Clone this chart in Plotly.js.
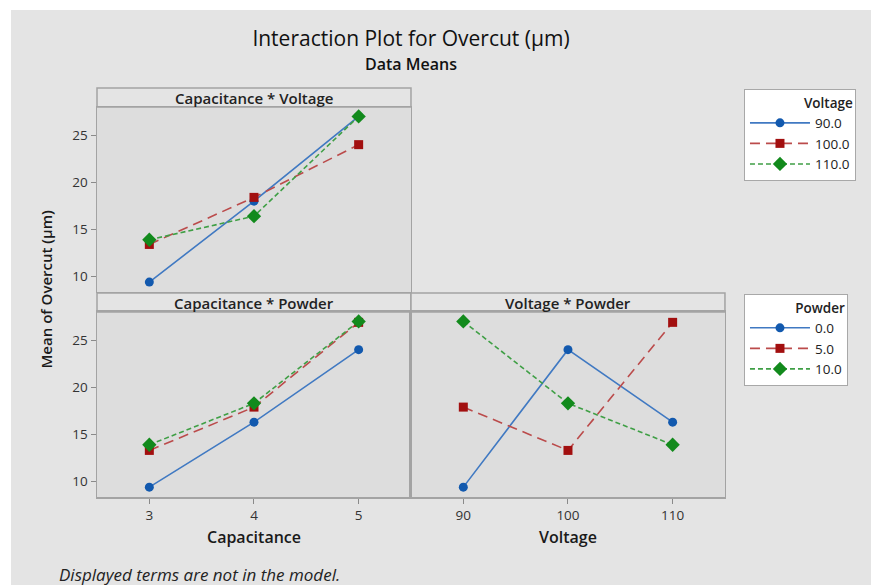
<!DOCTYPE html>
<html>
<head>
<meta charset="utf-8">
<script src="https://cdn.plot.ly/plotly-3.0.1.min.js"></script>
<style>
  html, body { margin: 0; padding: 0; background: #ffffff; width: 871px; height: 585px; overflow: hidden; }
  #chart { position: absolute; left: 11px; top: 10px; width: 860px; height: 575px; }
</style>
</head>
<body>
<div id="chart"></div>
<script>
// Factor levels
const capacitance = [3, 4, 5];
const voltage = [90, 100, 110];
const voltageLabels = ['90.0', '100.0', '110.0'];
const powderLabels = ['0.0', '5.0', '10.0'];

// Mean overcut (µm): Capacitance × Voltage
const capV90  = [9.4, 18.0, 27.0];
const capV100 = [13.4, 18.4, 24.0];
const capV110 = [13.9, 16.4, 27.0];

// Mean overcut (µm): Capacitance × Powder
const capP0  = [9.4, 16.3, 24.0];
const capP5  = [13.3, 17.9, 26.9];
const capP10 = [13.9, 18.3, 27.0];

// Mean overcut (µm): Voltage × Powder
const volP0  = [9.4, 24.0, 16.3];
const volP5  = [17.9, 13.3, 26.9];
const volP10 = [27.0, 18.3, 13.9];

// One style per level of the traced factor
const levelStyle = [
  { marker: '#1259ae', line: '#4079c2', symbol: 'circle', size: 9, dash: 'solid' },
  { marker: '#a20f0f', line: '#bb4b4b', symbol: 'square', size: 9, dash: '10px,6px' },
  { marker: '#128a1c', line: '#3f9f45', symbol: 'diamond', size: 11, dash: '5px,3px' }
];

function series(x, y, level, name, xa, ya, legend, showlegend) {
  const s = levelStyle[level];
  return {
    type: 'scatter', mode: 'lines+markers',
    x: x, y: y, name: name,
    xaxis: xa, yaxis: ya,
    legend: legend, showlegend: showlegend,
    line: { color: s.line, width: 1.6, dash: s.dash },
    marker: { color: s.marker, symbol: s.symbol, size: s.size },
    hoverinfo: 'x+y+name'
  };
}

const data = [
  series(capacitance, capV90, 0, voltageLabels[0], 'x', 'y', 'legend', true),
  series(capacitance, capV100, 1, voltageLabels[1], 'x', 'y', 'legend', true),
  series(capacitance, capV110, 2, voltageLabels[2], 'x', 'y', 'legend', true),
  series(capacitance, capP0, 0, powderLabels[0], 'x2', 'y2', 'legend2', true),
  series(capacitance, capP5, 1, powderLabels[1], 'x2', 'y2', 'legend2', true),
  series(capacitance, capP10, 2, powderLabels[2], 'x2', 'y2', 'legend2', true),
  series(voltage, volP0, 0, powderLabels[0], 'x3', 'y3', 'legend2', false),
  series(voltage, volP5, 1, powderLabels[1], 'x3', 'y3', 'legend2', false),
  series(voltage, volP10, 2, powderLabels[2], 'x3', 'y3', 'legend2', false)
];

const FONT = '"Open Sans", "Noto Sans", sans-serif';
const FRAME = '#a3a3a3';
const PANEL = '#dddddd';
const yRange = [8.35, 28.0];
const yTicks = [10, 15, 20, 25];

const baseAxis = {
  showgrid: false, zeroline: false,
  showline: true, mirror: true, linecolor: FRAME, linewidth: 1.5,
  ticks: 'outside', ticklen: 5, tickwidth: 1, tickcolor: '#8a8a8a',
  tickfont: { family: FONT, size: 13.5, color: '#333333' },
  fixedrange: true
};

const colLeft = [0.1000, 0.4651];
const colRight = [0.4651, 0.8302];
const rowTop = [0.5096, 0.8313];
const rowBottom = [0.1530, 0.4748];

const titleFont = { family: FONT, size: 16, weight: 600, color: '#1a1a1a' };
const stripFont = { family: FONT, size: 15, weight: 600, color: '#222222' };

const layout = {
  width: 860, height: 575,
  margin: { l: 0, r: 0, t: 0, b: 0 },
  paper_bgcolor: '#e4e4e4',
  plot_bgcolor: PANEL,
  font: { family: FONT, color: '#222222' },
  title: {
    text: 'Interaction Plot for Overcut (µm)',
    x: 0.4651, xanchor: 'center',
    y: 0.9496, yanchor: 'middle',
    font: { family: FONT, size: 21, color: '#111111' }
  },
  xaxis: Object.assign({}, baseAxis, { domain: colLeft, range: [2.5, 5.5], anchor: 'y',
    tickvals: capacitance, showticklabels: false, ticks: '' }),
  yaxis: Object.assign({}, baseAxis, { domain: rowTop, range: yRange, anchor: 'x', tickvals: yTicks }),
  xaxis2: Object.assign({}, baseAxis, { domain: colLeft, range: [2.5, 5.5], anchor: 'y2',
    tickvals: capacitance,
    title: { text: 'Capacitance', standoff: 9, font: titleFont } }),
  yaxis2: Object.assign({}, baseAxis, { domain: rowBottom, range: yRange, anchor: 'x2', tickvals: yTicks }),
  xaxis3: Object.assign({}, baseAxis, { domain: colRight, range: [85, 115], anchor: 'y3',
    tickvals: voltage,
    title: { text: 'Voltage', standoff: 9, font: titleFont } }),
  yaxis3: Object.assign({}, baseAxis, { domain: rowBottom, range: yRange, anchor: 'x3',
    tickvals: yTicks, showticklabels: false, ticks: '' }),
  legend: {
    x: 0.8523, y: 0.8626, xanchor: 'left', yanchor: 'top',
    bgcolor: '#ffffff', bordercolor: '#a8a8a8', borderwidth: 1,
    itemwidth: 60, tracegroupgap: 0,
    font: { family: FONT, size: 13.5, color: '#222222' },
    title: { text: 'Voltage', side: 'top right', font: { family: FONT, size: 13.5, weight: 600, color: '#222222' } }
  },
  legend2: {
    x: 0.8523, y: 0.5061, xanchor: 'left', yanchor: 'top',
    bgcolor: '#ffffff', bordercolor: '#a8a8a8', borderwidth: 1,
    itemwidth: 60, tracegroupgap: 0,
    font: { family: FONT, size: 13.5, color: '#222222' },
    title: { text: 'Powder', side: 'top right', font: { family: FONT, size: 13.5, weight: 600, color: '#222222' } }
  },
  shapes: [
    // panel header strips
    { type: 'rect', xref: 'paper', yref: 'paper', x0: colLeft[0], x1: colLeft[1], y0: 0.8313, y1: 0.8643,
      fillcolor: '#e4e4e4', line: { color: FRAME, width: 1.5 }, layer: 'below' },
    { type: 'rect', xref: 'paper', yref: 'paper', x0: colLeft[0], x1: colLeft[1], y0: 0.4748, y1: 0.5078,
      fillcolor: '#e4e4e4', line: { color: FRAME, width: 1.5 }, layer: 'below' },
    { type: 'rect', xref: 'paper', yref: 'paper', x0: colRight[0], x1: colRight[1], y0: 0.4748, y1: 0.5078,
      fillcolor: '#e4e4e4', line: { color: FRAME, width: 1.5 }, layer: 'below' }
  ],
  annotations: [
    { text: 'Data Means', xref: 'paper', yref: 'paper', x: 0.4651, y: 0.9061,
      xanchor: 'center', yanchor: 'middle', showarrow: false,
      font: { family: FONT, size: 16, weight: 600, color: '#111111' } },
    { text: 'Capacitance * Voltage', xref: 'paper', yref: 'paper', x: 0.2826, y: 0.8478,
      xanchor: 'center', yanchor: 'middle', showarrow: false, font: stripFont },
    { text: 'Capacitance * Powder', xref: 'paper', yref: 'paper', x: 0.2826, y: 0.4913,
      xanchor: 'center', yanchor: 'middle', showarrow: false, font: stripFont },
    { text: 'Voltage * Powder', xref: 'paper', yref: 'paper', x: 0.6477, y: 0.4913,
      xanchor: 'center', yanchor: 'middle', showarrow: false, font: stripFont },
    { text: 'Mean of Overcut (µm)', xref: 'paper', yref: 'paper', x: 0.0407, y: 0.514,
      xanchor: 'center', yanchor: 'middle', textangle: -90, showarrow: false,
      font: { family: FONT, size: 15, weight: 600, color: '#1a1a1a' } },
    { text: 'Displayed terms are not in the model.', xref: 'paper', yref: 'paper', x: 0.0535, y: 0.0174,
      xanchor: 'left', yanchor: 'middle', showarrow: false,
      font: { family: FONT, size: 17, style: 'italic', color: '#222222' } }
  ]
};

Plotly.newPlot('chart', data, layout, { displayModeBar: false, staticPlot: true });
</script>
</body>
</html>
